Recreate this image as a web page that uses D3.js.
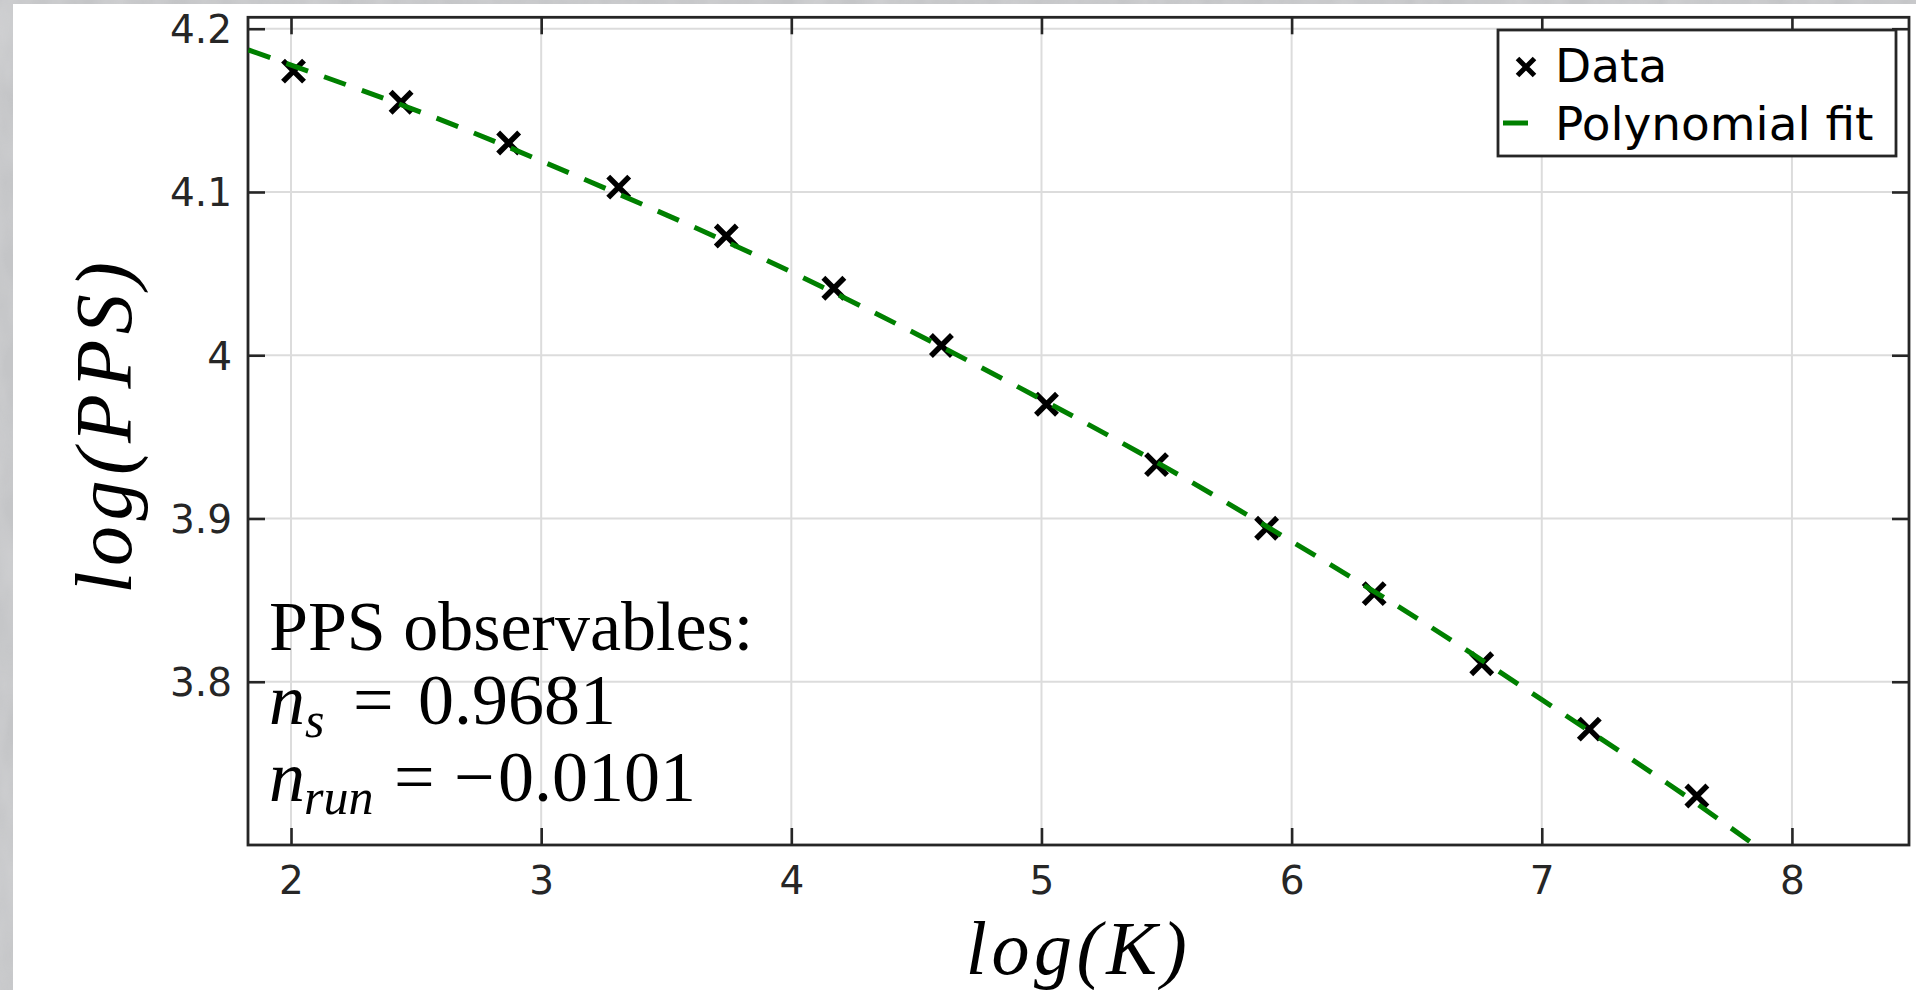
<!DOCTYPE html>
<html>
<head>
<meta charset="utf-8">
<script src="https://cdn.jsdelivr.net/npm/d3@7"></script>
<style>
  html, body { margin: 0; padding: 0; background: #ffffff; overflow: hidden; }
  svg { display: block; position: absolute; left: 0; top: 0; }
</style>
</head>
<body>
<svg id="chart" width="1916" height="990"></svg>
<script>
// ---- data ----
const xData = [2.01, 2.44, 2.87, 3.31, 3.74, 4.17, 4.60, 5.02, 5.46, 5.90, 6.33, 6.76, 7.19, 7.62];
const yData = [4.174, 4.155, 4.130, 4.103, 4.073, 4.041, 4.006, 3.970, 3.933, 3.894, 3.854, 3.811, 3.771, 3.730];
const fitX = [1.83, 2.5, 3.0, 3.5, 4.0, 4.5, 5.0, 5.5, 6.0, 6.5, 7.0, 7.5, 7.85];
const fitY = [4.187, 4.150, 4.119, 4.086, 4.051, 4.013, 3.973, 3.931, 3.886, 3.839, 3.789, 3.738, 3.700];
const xTicks = [2, 3, 4, 5, 6, 7, 8];
const yTicks = [3.8, 3.9, 4.0, 4.1, 4.2];
const yTickLabels = ["3.8", "3.9", "4", "4.1", "4.2"];
const xDomain = [1.828, 8.468];
const yDomain = [3.700, 4.207];
const legendLabels = ["Data", "Polynomial fit"];

// ---- layout ----
const W = 1916, H = 990;
const L = 248, R = 1909, T = 17.3, B = 845;
const axisColor = "#262626";
const gridColor = "#dcdcdc";
const fitColor = "#008000";

const svg = d3.select("#chart");

// white figure panel
svg.append("rect").attr("width", W).attr("height", H).attr("fill", "#ffffff");

// grey textured backdrop, visible only as thin strips on the left and top
const defs = svg.append("defs");
const filt = defs.append("filter").attr("id", "tex").attr("x", 0).attr("y", 0).attr("width", 1).attr("height", 1);
filt.append("feTurbulence").attr("type", "fractalNoise").attr("baseFrequency", "0.03 0.012").attr("numOctaves", 3).attr("seed", 4).attr("result", "n");
filt.append("feColorMatrix").attr("in", "n").attr("type", "matrix")
  .attr("values", "0 0 0 0 0.82  0 0 0 0 0.82  0 0 0 0 0.83  0.9 0 0 0 -0.25");
const strips = [[0, 0, 13, H], [0, 0, W, 4]];
strips.forEach(s => {
  svg.append("rect").attr("x", s[0]).attr("y", s[1]).attr("width", s[2]).attr("height", s[3]).attr("fill", "#c4c5c7");
  svg.append("rect").attr("x", s[0]).attr("y", s[1]).attr("width", s[2]).attr("height", s[3])
    .attr("filter", "url(#tex)").attr("opacity", 0.6);
});

defs.append("clipPath").attr("id", "plotclip")
  .append("rect").attr("x", L).attr("y", T).attr("width", R - L).attr("height", B - T);

const x = d3.scaleLinear().domain(xDomain).range([L, R]);
const y = d3.scaleLinear().domain(yDomain).range([B, T]);

// grid
const grid = svg.append("g");
grid.selectAll("line.gx").data(xTicks).join("line")
  .attr("x1", d => x(d)).attr("x2", d => x(d)).attr("y1", T).attr("y2", B)
  .attr("stroke", gridColor).attr("stroke-width", 2);
grid.selectAll("line.gy").data(yTicks).join("line")
  .attr("y1", d => y(d)).attr("y2", d => y(d)).attr("x1", L).attr("x2", R)
  .attr("stroke", gridColor).attr("stroke-width", 2);

// axes (ticks inward on all four sides)
const tickLen = 17;
const fmtY = d => yTickLabels[yTicks.indexOf(d)];
const axB = d3.axisBottom(x).tickValues(xTicks).tickSize(-tickLen).tickPadding(tickLen + 6).tickFormat(d3.format("d"));
const axT = d3.axisTop(x).tickValues(xTicks).tickSize(-tickLen).tickFormat("");
const axLft = d3.axisLeft(y).tickValues(yTicks).tickSize(-tickLen).tickPadding(tickLen + 16).tickFormat(fmtY);
const axRgt = d3.axisRight(y).tickValues(yTicks).tickSize(-tickLen).tickFormat("");

function styleAxis(g) {
  g.select(".domain").remove();
  g.selectAll(".tick line").attr("stroke", axisColor).attr("stroke-width", 2.6);
  g.selectAll(".tick text").attr("fill", "#262626")
    .attr("font-family", "'DejaVu Sans', sans-serif").attr("font-size", 39);
}
const gB = svg.append("g").attr("transform", `translate(0,${B})`).call(axB).call(styleAxis);
gB.selectAll(".tick text").attr("dy", null).attr("y", 49);
svg.append("g").attr("transform", `translate(0,${T})`).call(axT).call(styleAxis);
const gL = svg.append("g").attr("transform", `translate(${L},0)`).call(axLft).call(styleAxis);
gL.selectAll(".tick text").attr("dy", null).attr("y", 14).attr("x", -16);
svg.append("g").attr("transform", `translate(${R},0)`).call(axRgt).call(styleAxis);

// box
svg.append("rect").attr("x", L).attr("y", T).attr("width", R - L).attr("height", B - T)
  .attr("fill", "none").attr("stroke", axisColor).attr("stroke-width", 2.8);

// data markers (x)
const plot = svg.append("g").attr("clip-path", "url(#plotclip)");
const pts = xData.map((v, i) => [v, yData[i]]);
const ms = 10.5;
const mk = plot.selectAll("g.mk").data(pts).join("g")
  .attr("transform", d => `translate(${x(d[0])},${y(d[1])})`);
mk.append("path").attr("d", `M${-ms},${-ms}L${ms},${ms}M${-ms},${ms}L${ms},${-ms}`)
  .attr("stroke", "#000").attr("stroke-width", 5.5).attr("fill", "none");

// fit line
const fitPts = fitX.map((v, i) => [v, fitY[i]]);
const line = d3.line().x(d => x(d[0])).y(d => y(d[1])).curve(d3.curveNatural);
plot.append("path").datum(fitPts).attr("d", line)
  .attr("fill", "none").attr("stroke", fitColor).attr("stroke-width", 5)
  .attr("stroke-dasharray", "23,17");

// annotation
const serif = "'Liberation Serif', 'Times New Roman', serif";
const ann = svg.append("g").attr("font-family", serif).attr("fill", "#000");
ann.append("text").attr("x", 269).attr("y", 650).attr("font-size", 70).text("PPS observables:");
const t2 = ann.append("text").attr("y", 724).attr("font-size", 72);
t2.append("tspan").attr("x", 269).attr("font-style", "italic").text("n");
t2.append("tspan").attr("x", 305).attr("dy", 13).attr("font-size", 50).attr("font-style", "italic").text("s");
t2.append("tspan").attr("x", 353).attr("dy", -13).text("=");
t2.append("tspan").attr("x", 418).text("0.9681");
const t3 = ann.append("text").attr("y", 801).attr("font-size", 72);
t3.append("tspan").attr("x", 269).attr("font-style", "italic").text("n");
t3.append("tspan").attr("x", 304).attr("dy", 13).attr("font-size", 50).attr("font-style", "italic").text("run");
t3.append("tspan").attr("x", 394).attr("dy", -13).text("=");
t3.append("tspan").attr("x", 454).text("\u2212");
t3.append("tspan").attr("x", 498).text("0.0101");

// axis labels
svg.append("text").attr("x", (L + R) / 2).attr("y", 974).attr("text-anchor", "middle")
  .attr("font-family", serif).attr("font-style", "italic").attr("font-size", 76)
  .attr("letter-spacing", 4.5).text("log(K)");
svg.append("text").attr("transform", `translate(131,${(T + B) / 2 - 6}) rotate(-90)`).attr("text-anchor", "middle")
  .attr("font-family", serif).attr("font-style", "italic").attr("font-size", 80)
  .attr("letter-spacing", 5.5).text("log(PPS)");

// legend
const lg = svg.append("g");
lg.append("rect").attr("x", 1498).attr("y", 30).attr("width", 398).attr("height", 126)
  .attr("fill", "#fff").attr("stroke", axisColor).attr("stroke-width", 2.8);
const lgm = 8.5;
lg.append("path").attr("transform", "translate(1526,67)")
  .attr("d", `M${-lgm},${-lgm}L${lgm},${lgm}M${-lgm},${lgm}L${lgm},${-lgm}`)
  .attr("stroke", "#000").attr("stroke-width", 5);
lg.append("line").attr("x1", 1503).attr("x2", 1528).attr("y1", 123).attr("y2", 123)
  .attr("stroke", fitColor).attr("stroke-width", 5);
lg.selectAll("text").data(legendLabels).join("text")
  .attr("x", 1555).attr("y", (d, i) => [82, 140][i])
  .attr("font-family", "'DejaVu Sans', sans-serif").attr("font-size", 47).attr("fill", "#000")
  .text(d => d);
</script>
</body>
</html>
